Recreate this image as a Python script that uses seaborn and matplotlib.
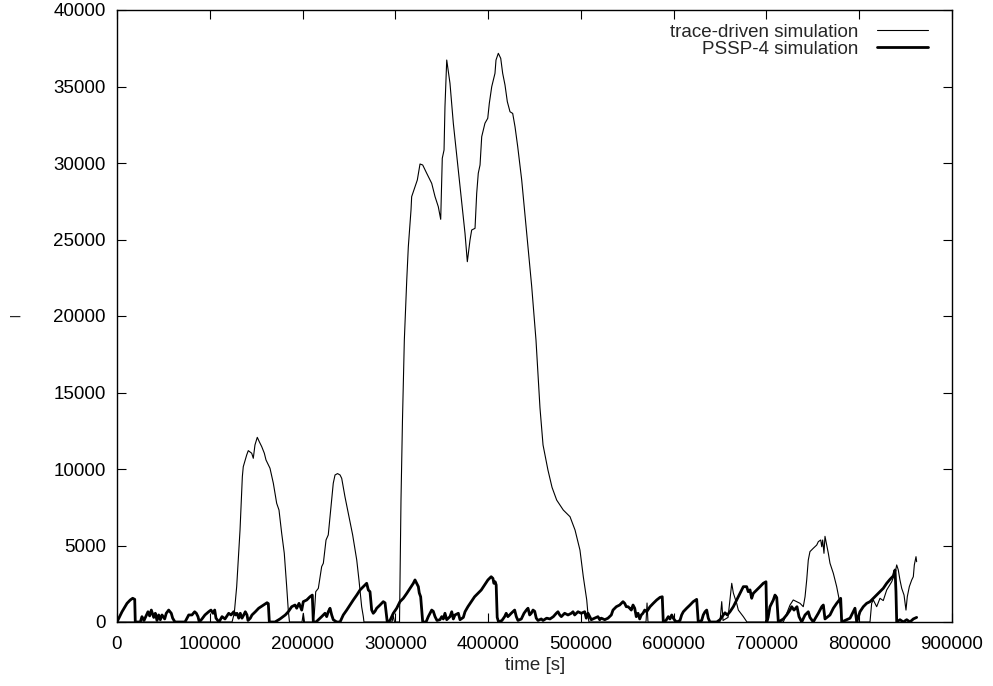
import matplotlib
matplotlib.use("Agg")
import matplotlib.pyplot as plt
import seaborn as sns
import pandas as pd

# ---- data ----
trace_t = [0, 124000, 126400, 129000, 132600, 135100, 136100, 139800, 141500, 145200,
           146900, 148700, 151200, 153400, 156000, 158800, 160600, 164900, 168500, 172100,
           174600, 177500, 180300, 182900, 184600, 185900, 199400, 200800, 202100, 211300,
           212700, 214200, 217000, 220600, 222400, 225300, 227700, 230700, 233100, 235000,
           237700, 240400, 242200, 245700, 249300, 254000, 258400, 260800, 263700, 265500,
           266200, 296400, 297800, 299100, 304500, 306100, 307700, 309700, 312300, 314000,
           316900, 317600, 321200, 323700, 326600, 329500, 333800, 339200, 342800, 346300,
           348900, 350600, 352500, 353500, 355400, 358900, 362500, 369700, 375100, 377600,
           380500, 382300, 385900, 387700, 389400, 391300, 393100, 396600, 399600, 401300,
           403900, 407400, 408500, 411000, 413600, 415700, 418200, 420700, 423600, 426500,
           429000, 431900, 436200, 441600, 447000, 451600, 455900, 459200, 464500, 468900,
           473900, 481000, 488300, 493700, 499000, 502600, 506300, 508000, 508700, 570200,
           571300, 572300, 649900, 651800, 653200, 658600, 662600, 664300, 667900, 669700,
           675100, 679000, 718200, 725400, 728900, 736200, 739700, 741600, 743400, 745100,
           746900, 750500, 754200, 755900, 758500, 759600, 760600, 762000, 763100, 766700,
           768500, 772100, 775700, 778500, 780000, 781100, 782000, 811600, 813400, 815200,
           818800, 822400, 825900, 829600, 835000, 838600, 840400, 842100, 843900, 845800,
           848300, 850400, 851800, 854000, 856600, 858300, 859400, 861200, 861900]
trace_v = [0, 0, 570, 2310, 6010, 9500, 10150, 10920, 11200, 11030,
           10700, 11570, 12070, 11780, 11460, 11030, 10590, 10050, 9070, 7760,
           7320, 5800, 4490, 2310, 780, 0, 0, 570, 0, 0,
           570, 1980, 2200, 3620, 3840, 5360, 5690, 7540, 9070, 9610,
           9700, 9610, 9390, 8190, 7100, 5690, 4050, 2750, 1000, 350,
           0, 0, 400, 0, 0, 7970, 13200, 18430, 22350, 24530,
           26930, 27800, 28450, 28890, 29935, 29870, 29330, 28670, 27800, 27145,
           26320, 30310, 30850, 33680, 36730, 35210, 32600, 28450, 25400, 23550,
           24970, 25620, 25730, 28020, 29330, 29870, 31720, 32600, 32920, 33900,
           34990, 35860, 36730, 37170, 36840, 35860, 35100, 34010, 33350, 33240,
           32370, 31070, 28890, 25400, 21920, 18430, 14000, 11570, 9930, 8800,
           7970, 7320, 6880, 6010, 4700, 2960, 1440, 260, 0, 0,
           1240, 0, 0, 1330, 100, 300, 2530, 1900, 1220, 780,
           350, 0, 0, 1110, 1440, 1220, 1000, 1650, 2750, 4050,
           4600, 4820, 5030, 5250, 5360, 4920, 5360, 4490, 5600, 4490,
           3840, 3180, 2310, 1440, 780, 130, 0, 0, 1220, 1440,
           1000, 1550, 1400, 2090, 2630, 3180, 3730, 3400, 2750, 2200,
           1760, 780, 1650, 2310, 2750, 2960, 3730, 4270, 3940]

pssp_t = [0, 5400, 10800, 14300, 16900, 19100, 19700, 25100, 26900, 29100,
          33400, 35200, 37000, 39600, 41300, 43100, 44900, 46700, 48500, 51400,
          53100, 55700, 58500, 60000, 62500, 73300, 77300, 80800, 83700, 85500,
          87300, 88700, 91600, 94800, 98800, 101300, 103500, 105300, 106700, 109900,
          113200, 116400, 120400, 122900, 125800, 127500, 129300, 131200, 132900, 134700,
          136600, 138300, 140100, 141200, 143700, 145500, 149100, 152700, 155200, 158100,
          161700, 163100, 164200, 170300, 175700, 181400, 184600, 188300, 191900, 193700,
          196200, 199100, 200800, 204500, 208000, 210500, 211600, 214500, 220600, 224200,
          226000, 227700, 229600, 231400, 233100, 236800, 240400, 243900, 247600, 251100,
          254700, 258400, 261900, 265500, 269100, 270900, 272700, 274500, 276200, 278100,
          279900, 283500, 287000, 288900, 290700, 291300, 294200, 296100, 297800, 301500,
          303200, 305000, 308600, 312300, 315800, 319400, 321200, 323000, 324800, 325800,
          327300, 328400, 329500, 333100, 335500, 339200, 340900, 342800, 344900, 348100,
          350000, 351700, 353500, 355400, 358900, 360800, 362500, 364300, 367900, 369700,
          373300, 375100, 378200, 381800, 385400, 389000, 392600, 396200, 399800, 403300,
          405200, 406200, 407600, 408700, 409800, 411300, 414900, 417800, 419500, 421300,
          423200, 424900, 426700, 428600, 430400, 432200, 435800, 438700, 441200, 443000,
          444800, 446500, 448400, 450200, 451900, 453800, 457300, 459200, 463100, 466700,
          470300, 473500, 475300, 477200, 478900, 482500, 486100, 489700, 491500, 493300,
          496900, 500400, 504100, 505800, 507700, 511200, 514900, 518400, 520300, 522000,
          525700, 529200, 532800, 534600, 538200, 541800, 545400, 547200, 548900, 550800,
          552600, 554300, 556200, 558000, 559700, 561600, 563400, 565100, 566900, 568800,
          570900, 574500, 578000, 581700, 585300, 587700, 588800, 591700, 594200, 596000,
          597900, 599600, 601400, 603300, 606800, 608600, 610400, 614000, 617600, 621100,
          624800, 626500, 630200, 631900, 633800, 635600, 637300, 639100, 646400, 649900,
          653500, 655300, 657800, 660700, 664300, 667900, 671500, 675100, 678700, 680400,
          682300, 684100, 685800, 689500, 693100, 696600, 699500, 700300, 701800, 703800,
          707400, 709200, 711100, 712800, 718200, 721800, 725400, 727200, 729700, 732900,
          735100, 738000, 741600, 745100, 746900, 750500, 752300, 755900, 759600, 761300,
          763100, 768500, 772100, 775700, 778500, 780000, 781100, 790100, 793600, 795400,
          797300, 800800, 804400, 808000, 811600, 815200, 818800, 822400, 825900, 829600,
          833200, 836700, 838600, 839600, 840400, 843900, 847500, 851200, 854700, 858300,
          861900]
pssp_v = [0, 670, 1220, 1440, 1550, 1480, 0, 0, 350, 100,
          670, 400, 780, 300, 570, 100, 460, 150, 460, 200,
          570, 780, 570, 250, 0, 0, 460, 460, 670, 570,
          350, 0, 200, 460, 670, 780, 570, 780, 250, 0,
          350, 200, 570, 460, 670, 460, 570, 250, 570, 250,
          460, 670, 460, 100, 250, 460, 670, 900, 1000, 1110,
          1260, 1200, 0, 0, 200, 460, 670, 1000, 1110, 900,
          1220, 780, 1330, 1440, 1650, 1760, 0, 0, 350, 570,
          350, 670, 900, 460, 150, 0, 0, 460, 780, 1110,
          1440, 1760, 2090, 2310, 2530, 2090, 1980, 780, 570, 700,
          900, 1110, 1330, 1250, 350, 0, 100, 350, 570, 900,
          1110, 1330, 1550, 1870, 2200, 2530, 2750, 2530, 2310, 1900,
          1650, 800, 0, 0, 350, 780, 700, 350, 100, 150,
          350, 200, 570, 150, 350, 670, 200, 460, 570, 150,
          300, 670, 1000, 1330, 1650, 1870, 2090, 2420, 2750, 2960,
          2850, 2530, 2630, 2420, 300, 0, 100, 350, 570, 350,
          460, 570, 670, 780, 350, 100, 200, 570, 780, 900,
          460, 570, 780, 700, 250, 100, 200, 100, 250, 200,
          350, 570, 670, 460, 350, 570, 460, 570, 670, 460,
          670, 570, 670, 250, 570, 150, 250, 350, 150, 250,
          150, 250, 460, 780, 1000, 1110, 1330, 1220, 1000, 1000,
          900, 780, 1110, 900, 350, 570, 200, 460, 570, 780,
          670, 1000, 1220, 1440, 1610, 1650, 0, 100, 350, 200,
          460, 250, 100, 0, 100, 460, 670, 900, 1110, 1330,
          1480, 0, 100, 460, 670, 780, 250, 0, 0, 150,
          460, 600, 460, 670, 1000, 1440, 1870, 2310, 2310, 1980,
          2100, 1550, 1870, 2090, 2310, 2530, 2630, 0, 300, 1000,
          1440, 1760, 1600, 0, 200, 460, 780, 1000, 780, 1000,
          350, 0, 460, 670, 300, 0, 200, 570, 1000, 1110,
          200, 460, 900, 1220, 1440, 1550, 0, 250, 670, 900,
          0, 670, 1000, 1220, 1330, 1550, 1760, 1980, 2200, 2530,
          2790, 3010, 3400, 2000, 0, 150, 0, 150, 0, 200,
          300]

x_ticks = [0, 100000, 200000, 300000, 400000, 500000, 600000, 700000, 800000, 900000]
y_ticks = [0, 5000, 10000, 15000, 20000, 25000, 30000, 35000, 40000]
x_label = "time [s]"
y_label = "–"
labels = ["trace-driven simulation", "PSSP-4 simulation"]

df_trace = pd.DataFrame({"t": trace_t, "v": trace_v})
df_pssp = pd.DataFrame({"t": pssp_t, "v": pssp_v})

sns.set_style("ticks")
plt.rcParams["font.family"] = ["Liberation Sans", "DejaVu Sans"]

fig = plt.figure(figsize=(9.93, 6.86), dpi=100)
ax = fig.add_axes([117 / 993, 64 / 686, 835 / 993, 612 / 686])

sns.lineplot(data=df_trace, x="t", y="v", ax=ax, color="black", linewidth=0.8,
             estimator=None, sort=False, label=labels[0])
sns.lineplot(data=df_pssp, x="t", y="v", ax=ax, color="black", linewidth=2.0,
             estimator=None, sort=False, label=labels[1])

ax.set_xlim(0, 900000)
ax.set_ylim(0, 40000)
ax.set_xticks(x_ticks)
ax.set_yticks(y_ticks)
ax.set_xticklabels([str(v) for v in x_ticks])
ax.set_yticklabels([str(v) for v in y_ticks])
ax.tick_params(direction="in", length=6.5, width=0.8, top=True, right=True,
               labelsize=13.5, colors="black")
ax.tick_params(axis="x", pad=10)
ax.tick_params(axis="y", pad=8)
for s in ax.spines.values():
    s.set_linewidth(1.0)
    s.set_color("black")

ax.set_xlabel("")
ax.set_ylabel("")
fig.text(535 / 993, 1 - 665 / 686, x_label, ha="center", va="center", fontsize=13.5)
fig.text(15 / 993, 1 - 316 / 686, y_label, ha="center", va="center", fontsize=13.5,
         rotation=0)

leg = ax.legend(loc="upper right", bbox_to_anchor=(0.971, 0.978), frameon=False,
                markerfirst=False, fontsize=13.5, handlelength=2.7, handletextpad=1.0,
                labelspacing=0.0, borderpad=0, borderaxespad=0)

fig.savefig("out.png", dpi=100)
